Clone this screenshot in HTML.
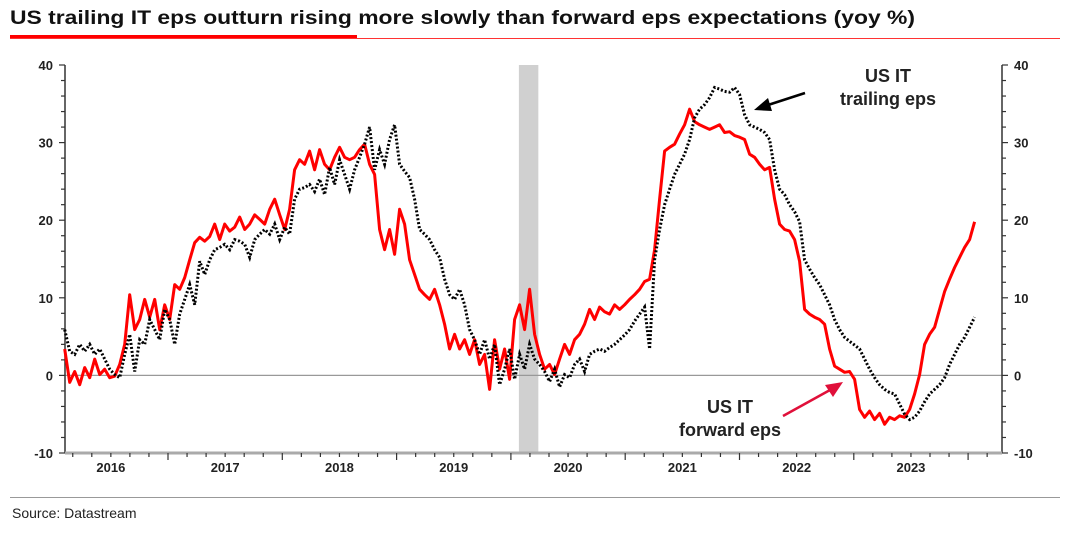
<!DOCTYPE html>
<html><head><meta charset="utf-8"><style>
body{margin:0;background:#fff;width:1069px;height:530px;overflow:hidden;font-family:"Liberation Sans",sans-serif}
</style></head><body>
<svg id="chart" width="1069" height="530" xmlns="http://www.w3.org/2000/svg">
<text x="10" y="24" font-size="19" font-weight="bold" fill="#111" textLength="905" lengthAdjust="spacingAndGlyphs">US trailing IT eps outturn rising more slowly than forward eps expectations (yoy %)</text>
<rect x="10" y="35" width="347" height="4" fill="#f00"/>
<rect x="10" y="38" width="1050" height="1" fill="#f33"/>
<g id="plot"></g>
<rect x="10" y="497" width="1050" height="1" fill="#999"/>
<text x="12" y="518" font-size="14" fill="#222">Source: Datastream</text>
</svg>
<script>
const yTicks=[-10,0,10,20,30,40];
const yearLabels=['2016','2017','2018','2019','2020','2021','2022','2023'];
const startYear=2016.096, stepYear=0.04374;
const recession=[2020.07,2020.24];
const forwardEps=[3.4,-0.9,0.5,-1.2,1.0,-0.3,2.1,0.1,0.8,-0.3,-0.1,1.4,4.0,10.4,5.9,7.2,9.8,7.5,9.8,5.9,9.1,7.2,11.7,11.1,12.6,14.9,17.1,17.8,17.3,17.9,19.5,17.5,19.5,18.6,19.1,20.4,18.8,19.5,20.7,20.1,19.5,21.4,22.7,20.7,18.8,21.4,26.5,27.8,27.2,28.9,26.5,29.1,27.2,26.5,28.1,29.4,28.1,27.8,28.1,29.1,29.8,27.2,25.9,18.8,16.2,18.8,15.6,21.4,19.5,14.9,13.0,11.1,10.4,9.8,11.1,9.1,6.6,3.4,5.3,3.4,4.6,2.7,4.6,1.4,2.7,-1.8,4.6,0.8,3.4,-0.5,7.2,9.1,5.9,11.1,5.3,2.7,0.8,1.4,0.1,2.1,4.0,2.7,4.6,5.3,6.6,8.5,7.2,8.8,8.2,7.9,9.1,8.5,9.1,9.8,10.4,11.1,12.1,12.4,16.2,22.7,28.9,29.4,29.8,31.1,32.3,34.3,32.7,32.3,32.0,31.7,32.0,32.3,31.3,31.4,30.9,30.7,30.4,28.5,28.1,27.2,26.5,26.8,22.7,19.5,18.8,18.6,17.5,14.7,8.5,7.9,7.5,7.2,6.6,3.4,1.2,0.8,0.4,0.5,-0.5,-4.4,-5.4,-4.6,-5.7,-4.9,-6.3,-5.4,-5.7,-5.2,-5.4,-4.4,-2.4,0.1,4.0,5.3,6.2,8.5,10.8,12.4,13.9,15.2,16.5,17.5,19.8];
const trailingEps=[5.9,3.1,2.7,4.0,3.1,4.0,2.7,3.4,2.1,0.8,0.1,-0.3,2.7,5.3,0.5,4.6,4.0,7.2,5.9,4.6,8.5,7.2,4.0,7.9,9.8,11.7,9.1,14.7,13.0,14.9,16.2,16.5,16.9,16.2,17.5,17.3,16.9,15.2,17.5,18.2,18.8,18.2,19.5,17.5,19.1,18.2,22.7,24.0,24.2,24.6,23.7,25.3,23.3,26.8,24.6,27.8,25.9,24.0,26.5,28.1,29.8,32.0,26.5,29.1,27.2,30.4,32.3,27.2,26.3,25.5,22.7,18.8,18.2,17.5,16.2,15.2,12.4,10.4,9.8,11.1,9.1,5.9,4.6,2.7,4.6,2.1,4.0,-1.2,0.8,3.4,-0.5,2.7,0.8,4.0,2.1,1.4,0.5,-0.8,0.8,-1.5,0.1,-0.3,1.4,2.1,0.5,2.7,3.1,3.4,3.1,3.6,4.0,4.6,5.2,5.9,7.0,7.9,8.8,3.4,14.9,18.8,22.0,24.0,25.9,27.2,28.5,30.4,33.2,34.3,34.9,35.8,37.1,36.9,36.6,36.5,37.1,36.2,33.6,32.3,32.0,31.7,31.3,30.4,26.5,24.0,23.3,22.0,21.1,19.8,14.9,13.7,12.6,11.7,10.4,9.1,7.2,5.9,4.9,4.4,3.9,3.4,2.1,0.8,-0.3,-1.2,-1.8,-2.2,-2.4,-3.7,-5.0,-5.7,-5.4,-4.6,-3.4,-2.4,-1.8,-1.2,-0.3,1.4,2.7,4.0,4.9,6.2,7.5];

const NS='http://www.w3.org/2000/svg';
const L=65,R=1002,T=65,B=453;
const xS=t=>53.7+(t-2016)*114.3;
const yS=v=>T+(40-v)*(B-T)/50;
const g=document.getElementById('plot');
function mk(tag,attrs,parent){const e=document.createElementNS(NS,tag);for(const k in attrs)e.setAttribute(k,attrs[k]);(parent||g).appendChild(e);return e;}

const rb=mk('rect',{x:xS(recession[0]),y:T,width:xS(recession[1])-xS(recession[0]),height:B-T,fill:'#d0d0d0'});



const zl=mk('line',{x1:L,x2:R,y1:yS(0),y2:yS(0),stroke:'#999','stroke-width':1.2});



// axes
const la=mk('line',{x1:L,x2:L,y1:T,y2:B,stroke:'#333','stroke-width':1.5});


const ra=mk('line',{x1:R,x2:R,y1:T,y2:B,stroke:'#333','stroke-width':1.5});


const ba=mk('line',{x1:L,x2:R,y1:B,y2:B,stroke:'#aaa','stroke-width':3});



for(let v=-10;v<=40;v+=2){
  const big=v%10===0;
  const t1=mk('line',{x1:L-(big?6:4),x2:L,y1:yS(v),y2:yS(v),stroke:'#333','stroke-width':1.2});
  
  
  const t2=mk('line',{x1:R,x2:R+(big?6:4),y1:yS(v),y2:yS(v),stroke:'#333','stroke-width':1.2});
  
  
}
yTicks.forEach(v=>{
  const a=mk('text',{x:L-12,y:yS(v)+5,'text-anchor':'end','font-size':13,'font-weight':'bold',fill:'#222'});
  a.textContent=v;
  
  
  const b=mk('text',{x:R+12,y:yS(v)+5,'text-anchor':'start','font-size':13,'font-weight':'bold',fill:'#222'});
  b.textContent=v;
  
  
});
for(let m=2;m<=98;m+=2){
  const t=2016+m/12; const x=xS(t);
  if(x<L||x>R)continue;
  const big=m%12===0;
  const tk=mk('line',{x1:x,x2:x,y1:B,y2:B+(big?7:4),stroke:'#333','stroke-width':1.2});
  
  
}
yearLabels.forEach((lab,i)=>{
  const e=mk('text',{x:xS(2016.5+i),y:B+19,'text-anchor':'middle','font-size':13,'font-weight':'bold',fill:'#222'});
  e.textContent=lab;
  
  
});

function path(arr){return arr.map((v,i)=>(i?'L':'M')+xS(startYear+i*stepYear).toFixed(1)+','+yS(v).toFixed(1)).join('');}
const fl=mk('path',{d:path(forwardEps),fill:'none',stroke:'#f00','stroke-width':3,'stroke-linejoin':'round'});


const tl=mk('path',{d:path(trailingEps),fill:'none',stroke:'#000','stroke-width':3,'stroke-dasharray':'2 2'});



// annotations
function label(lines,x,y,name){
  const e=mk('text',{x:x,y:y,'text-anchor':'middle','font-size':18,'font-weight':'bold',fill:'#222'});
  
  
  lines.forEach((s,i)=>{const ts=mk('tspan',{x:x,dy:i?23:0},e);ts.textContent=s;});
}
label(['US IT','trailing eps'],888,82,'trailing-eps-label');
label(['US IT','forward eps'],730,413,'forward-eps-label');
const a1=mk('line',{x1:805,y1:93,x2:768,y2:105,stroke:'#000','stroke-width':2.5});


const h1=mk('polygon',{points:'754,110 768,98 772,111',fill:'#000'});


const a2=mk('line',{x1:783,y1:416,x2:830,y2:390,stroke:'#e0103a','stroke-width':2.5});


const h2=mk('polygon',{points:'843,382 825,385 833,397',fill:'#e0103a'});


</script>
</body></html>
